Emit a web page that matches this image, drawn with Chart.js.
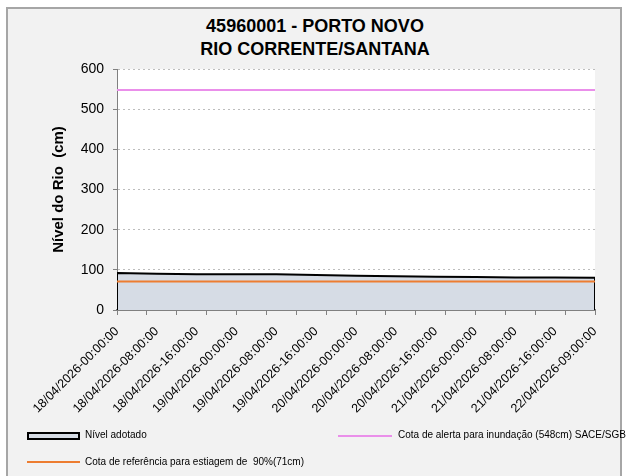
<!DOCTYPE html>
<html>
<head>
<meta charset="utf-8">
<script src="https://cdn.jsdelivr.net/npm/chart.js@4.4.1/dist/chart.umd.min.js"></script>
<style>
  body { margin: 0; background: #fff; }
  #wrap { position: relative; width: 630px; height: 476px; font-family: "Liberation Sans", Arial, sans-serif; color: #000; }
  #frame { position: absolute; left: 6px; top: 7px; width: 616px; height: 474px; background: #f2f2f2; border: 2px solid #a6a6a6; box-sizing: border-box; }
  #title { position: absolute; left: 0; width: 630px; top: 15px; text-align: center; font-weight: bold; font-size: 18px; line-height: 23px; }
  canvas { position: absolute; left: 0; top: 0; }
  .txt { position: absolute; font-size: 10px; line-height: 12px; white-space: nowrap; }
  .ln { position: absolute; height: 2px; }
  .box { position: absolute; background: #d6dce5; border: 2px solid #000; box-sizing: border-box; }
</style>
</head>
<body>
<div id="wrap">
  <div id="frame"></div>
  <div id="title">45960001 - PORTO NOVO<br>RIO CORRENTE/SANTANA</div>
  <canvas id="rio" width="630" height="476"></canvas>
  <div class="box" style="left:27px;top:432px;width:53px;height:8px;"></div>
  <div class="txt" style="left:85px;top:429px;">Nível adotado</div>
  <div class="ln" style="left:338px;top:435px;width:54px;background:#ea8fea;"></div>
  <div class="txt" style="left:398px;top:429px;">Cota de alerta para inundação (548cm) SACE/SGB</div>
  <div class="ln" style="left:27px;top:461px;width:53px;background:#ed7d31;"></div>
  <div class="txt" style="left:85px;top:456px;">Cota de referência para estiagem de&nbsp; 90%(71cm)</div>
</div>
<script>
// categorias do eixo X (datas das leituras)
const labels = [
  '18/04/2026-00:00:00', '18/04/2026-08:00:00', '18/04/2026-16:00:00',
  '19/04/2026-00:00:00', '19/04/2026-08:00:00', '19/04/2026-16:00:00',
  '20/04/2026-00:00:00', '20/04/2026-08:00:00', '20/04/2026-16:00:00',
  '21/04/2026-00:00:00', '21/04/2026-08:00:00', '21/04/2026-16:00:00',
  '22/04/2026-09:00:00'
];
// nivel adotado (cm)
const nivel = [92, 90, 89, 89, 89, 87, 85, 84, 83, 82, 81, 81, 80];
const cotaAlerta = 548;   // SACE/SGB
const cotaEstiagem = 71;  // referencia 90%
const yMax = 600;
const yStep = 100;
const marcasX = 16;       // marcas menores do eixo X

document.addEventListener('DOMContentLoaded', () => {
  const last = labels.length - 1;

  // area fechada ate o zero nas pontas, como no Excel
  const areaNivel = [{ x: 0, y: 0 }]
    .concat(nivel.map((v, i) => ({ x: i, y: v })))
    .concat([{ x: last, y: 0 }]);

  const plotBg = {
    id: 'plotBg',
    beforeDraw(chart) {
      const a = chart.chartArea;
      chart.ctx.save();
      chart.ctx.fillStyle = '#ffffff';
      chart.ctx.fillRect(a.left, a.top, a.right - a.left, a.bottom - a.top);
      chart.ctx.restore();
    }
  };

  new Chart(document.getElementById('rio').getContext('2d'), {
    type: 'line',
    data: {
      datasets: [
        {
          label: 'Cota de referência para estiagem de 90%(71cm)',
          data: [{ x: 0, y: cotaEstiagem }, { x: last, y: cotaEstiagem }],
          borderColor: '#ed7d31', borderWidth: 2, pointRadius: 0, fill: false
        },
        {
          label: 'Cota de alerta para inundação (548cm) SACE/SGB',
          data: [{ x: 0, y: cotaAlerta }, { x: last, y: cotaAlerta }],
          borderColor: '#ea8fea', borderWidth: 2, pointRadius: 0, fill: false
        },
        {
          label: 'Nível adotado',
          data: areaNivel,
          borderColor: '#000000', borderWidth: 2, backgroundColor: '#d6dce5',
          pointRadius: 0, fill: 'origin', tension: 0
        }
      ]
    },
    options: {
      responsive: false,
      animation: false,
      devicePixelRatio: 1,
      layout: { padding: { left: 46, top: 69, right: 35, bottom: 0 } },
      plugins: { legend: { display: false }, tooltip: { enabled: false } },
      scales: {
        x: {
          type: 'linear', position: 'bottom', weight: 1, min: 0, max: last,
          grid: { display: false }, border: { display: false },
          ticks: {
            stepSize: 1, autoSkip: false, maxRotation: 45, minRotation: 45, padding: 1,
            color: '#000', font: { family: 'Liberation Sans', size: 12.5 },
            callback: (v) => labels[v]
          },
          afterFit: (s) => { s.height = 161; }
        },
        x2: {
          type: 'linear', position: 'bottom', weight: 0, min: 0, max: marcasX,
          grid: { drawOnChartArea: false, tickLength: 5, color: '#808080' },
          border: { color: '#808080', width: 2 },
          ticks: { display: false, stepSize: 1 },
          afterFit: (s) => { s.height = 5; }
        },
        y: {
          min: 0, max: yMax,
          grid: { color: '#bdbdbd', tickLength: 4, tickColor: '#808080' },
          border: { color: '#808080', dash: [2, 3] },
          ticks: { stepSize: yStep, padding: 9, color: '#000', font: { family: 'Liberation Sans', size: 14 } },
          title: {
            display: true, text: 'Nível do Rio  (cm)', color: '#000',
            font: { family: 'Liberation Sans', size: 15, weight: 'bold' }
          },
          afterFit: (s) => { s.width = 71; }
        }
      }
    },
    plugins: [plotBg]
  });
});
</script>
</body>
</html>
